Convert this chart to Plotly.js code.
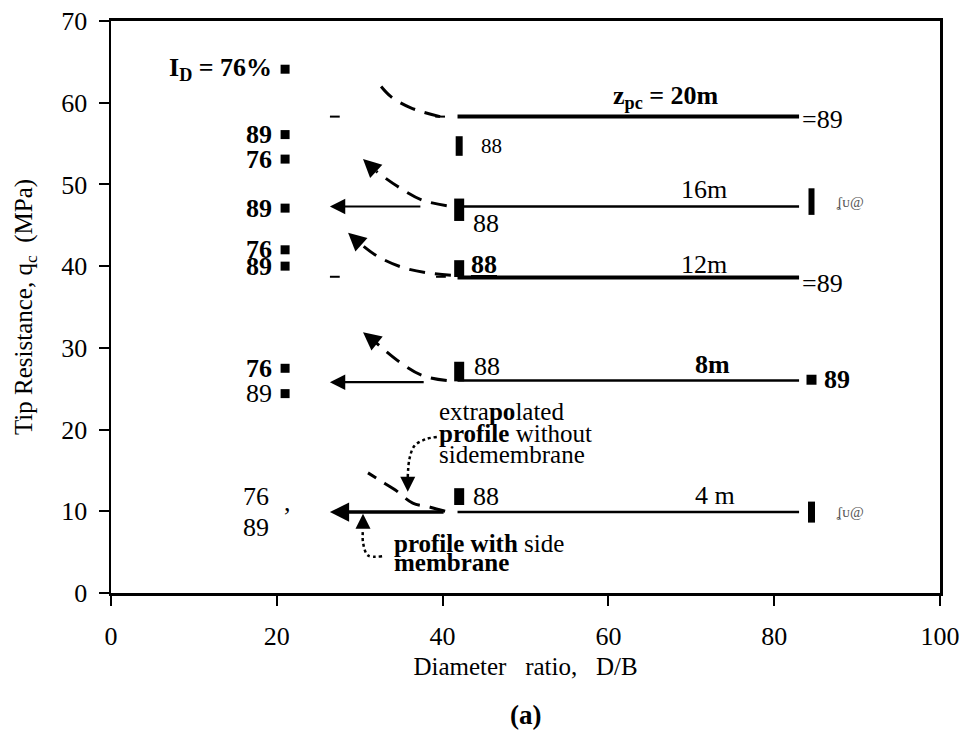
<!DOCTYPE html>
<html>
<head>
<meta charset="utf-8">
<script src="https://cdn.plot.ly/plotly-3.0.1.min.js"></script>
<style>
  html, body { margin: 0; padding: 0; background: #fff; }
  #chart { width: 962px; height: 740px; }
</style>
</head>
<body>
<div id="chart"></div>
<script>
// Tip resistance q_c versus chamber diameter ratio D/B, by penetration depth z_pc

// Tests at D/B = 21 (markers labelled with relative density I_D)
const leftDB = 21;
const leftQc = [64.1, 56.1, 53.1, 47.1, 42.0, 40.0, 27.5, 24.4];
const leftID = ['I<sub>D</sub> = 76%', '89', '76', '89', '76', '89', '76', '89'];
const leftBold = [true, true, true, true, true, true, true, false];
// values near 4 m whose markers are not drawn
const leftBareQc = [11.8, 8.0];
const leftBareID = ['76', '89'];

// Tests at D/B = 42
const midDB = 42;
const midQc = [54.7, 46.9, 39.7, 27.1, 11.8];
const midID = ['88', '88', '88', '88', '88'];

// Tests at D/B = 85
const rightDB = 84.5;
const rightQc = [47.9, 26.1, 9.9];
const rightID = ['', '89', ''];
const rightEqQc = [57.9, 37.9];   // "=89" entries at 20 m and 12 m
const rightEqID = ['=89', '=89'];

// Profiles with side membrane, one per depth
const depthLabel = ['z<sub>pc</sub> = 20m', '16m', '12m', '<b>8m</b>', '4 m'];
const depthQc = [58.3, 47.3, 38.6, 26.0, 9.9];
const lineFrom = 41.8;
const lineTo = 83.0;

// Extrapolation arrows towards small D/B
const extrapQc = [47.3, 25.8, 9.9];
const extrapFrom = [37.5, 37.9, 40.3];
const extrapTo = 26.4;

// Dashed extrapolated profiles (without side membrane)
const curve20x = [39.7, 36.1, 33.7, 32.1];
const curve20y = [58.3, 59.4, 60.8, 62.6];
const curve16x = [40.5, 37.5, 34.5, 32.0];
const curve16y = [47.4, 48.1, 49.8, 51.6];
const head16 = [30.4, 53.1];
const curve12x = [41.0, 38.0, 35.0, 32.0, 29.8];
const curve12y = [38.9, 39.2, 39.9, 41.3, 43.0];
const head12 = [28.6, 44.1];
const curve8x = [40.5, 37.6, 34.9, 32.0];
const curve8y = [26.0, 26.6, 28.2, 30.6];
const head8 = [30.4, 31.9];
const curve4x = [40.3, 38.5, 36.4, 34.3, 32.4, 31.0];
const curve4y = [10.0, 10.5, 11.0, 12.6, 13.8, 14.7];

// Stray dash fragments of the 20 m and 12 m extrapolations
const fragX = [27.0, 39.7, 27.0, 39.8];
const fragY = [58.3, 58.3, 38.7, 38.7];

// Dotted pointers from the explanatory notes
const ptrAx = [39.3, 37.9, 36.6, 36.0, 35.8];
const ptrAy = [19.1, 18.8, 18.0, 16.4, 14.2];
const ptrAhead = [35.8, 12.4];
const ptrBx = [32.7, 31.0, 30.4, 30.4];
const ptrBy = [4.5, 4.6, 6.2, 7.8];
const ptrBhead = [30.4, 9.7];

const SERIF = 'Liberation Serif, Times New Roman, serif';
const ink = '#000';

const traces = [];

// profile lines
const lineW = [4, 2.5, 4, 2.5, 2.5];
depthQc.forEach((q, i) => {
  traces.push({
    x: [lineFrom, lineTo], y: [q, q], mode: 'lines',
    line: { color: ink, width: lineW[i] }, hoverinfo: 'skip'
  });
});

// dashed extrapolated curves
[[curve20x, curve20y], [curve16x, curve16y], [curve12x, curve12y],
 [curve8x, curve8y], [curve4x, curve4y]].forEach(([cx, cy]) => {
  traces.push({
    x: cx, y: cy, mode: 'lines', line: { color: ink, width: 3, dash: '16px,10px', shape: 'spline' },
    hoverinfo: 'skip'
  });
});

// dotted pointers
[[ptrAx, ptrAy], [ptrBx, ptrBy]].forEach(([px, py]) => {
  traces.push({
    x: px, y: py, mode: 'lines', line: { color: ink, width: 2.5, dash: 'dot', shape: 'spline' },
    hoverinfo: 'skip'
  });
});

// dash fragments
traces.push({
  x: fragX, y: fragY, mode: 'markers',
  marker: { symbol: 'line-ew', size: 7, opacity: 1, line: { color: ink, width: 2 } }, hoverinfo: 'skip'
});

// markers
traces.push({
  x: leftQc.map(() => leftDB), y: leftQc, mode: 'markers',
  marker: { symbol: 'square', size: 9, color: ink, opacity: 1 }, hoverinfo: 'skip'
});
traces.push({
  x: midQc.map(() => midDB), y: midQc, mode: 'markers',
  marker: { symbol: 'line-ns', size: [14, 16, 12, 14, 12], opacity: 1,
            line: { color: ink, width: [7, 10, 10, 10, 10] } }, hoverinfo: 'skip'
});
traces.push({
  x: rightQc.map(() => rightDB), y: rightQc, mode: 'markers',
  marker: { symbol: ['line-ns', 'square', 'line-ns'], size: [19, 10, 15], color: ink, opacity: 1,
            line: { color: ink, width: [6, 0, 7] } }, hoverinfo: 'skip'
});

const ann = [];
function txt(x, y, text, o) {
  o = o || {};
  ann.push(Object.assign({
    x: x, y: y, xref: 'x', yref: 'y', text: text, showarrow: false,
    font: { family: SERIF, size: o.size || 26, color: o.color || ink },
    xanchor: 'center', yanchor: 'middle'
  }, o.extra || {}));
}

// relative density labels at D/B = 21
leftQc.forEach((q, i) => {
  const t = leftBold[i] ? '<b>' + leftID[i] + '</b>' : leftID[i];
  txt(leftDB, q, t, { extra: { xanchor: 'right', xshift: -11 } });
});
leftBareQc.forEach((q, i) => {
  txt(leftDB, q, leftBareID[i], { extra: { xanchor: 'right', xshift: -14 } });
});
txt(leftDB, leftBareQc[0], ',', { extra: { yshift: -6, xshift: 2 } });

// labels at D/B = 42
const midShiftX = [20, 12, 10, 13, 12];
const midShiftY = [0, -14, 4, 5, 0];
const midText = ['<span style="font-size:21px">88</span>', '88',
  '<b><span style="text-decoration:underline">88</span></b>', '88', '88'];
midQc.forEach((q, i) => {
  txt(midDB, q, midText[i], { extra: { xanchor: 'left', xshift: midShiftX[i], yshift: midShiftY[i] } });
});

// labels at D/B = 85
txt(rightDB, rightQc[1], '<b>' + rightID[1] + '</b>', { extra: { xanchor: 'left', xshift: 10 } });
[rightQc[0], rightQc[2]].forEach(q => {
  txt(rightDB, q, 'ʆᴜ@', { size: 15, color: '#555', extra: { xanchor: 'left', xshift: 22 } });
});
rightEqQc.forEach((q, i) => {
  txt(lineTo, q, rightEqID[i], { extra: { xanchor: 'left', xshift: 1 } });
});

// depth labels above each profile
const depthX = [67.0, 71.5, 71.5, 72.5, 72.8];
const depthShift = [20, 17, 13, 16, 17];
depthQc.forEach((q, i) => {
  const t = i === 0 ? '<b>' + depthLabel[i] + '</b>' : depthLabel[i];
  txt(depthX[i], q, t, { extra: { yshift: depthShift[i] } });
});

// extrapolation arrows
extrapQc.forEach((q, i) => {
  ann.push({
    x: extrapTo, y: q, ax: extrapFrom[i], ay: q, xref: 'x', yref: 'y', axref: 'x', ayref: 'y',
    text: '', showarrow: true, arrowhead: 2, arrowsize: i === 2 ? 1.1 : 1.4,
    arrowwidth: i === 2 ? 3.5 : 2.2, arrowcolor: ink
  });
});

// arrow heads at the ends of the dashed curves and pointers
function head(from, to, w) {
  ann.push({
    x: to[0], y: to[1], ax: from[0], ay: from[1], xref: 'x', yref: 'y', axref: 'x', ayref: 'y',
    text: '', showarrow: true, arrowhead: 2, arrowsize: 1.2, arrowwidth: w, arrowcolor: ink
  });
}
head([curve16x[3], curve16y[3]], head16, 3);
head([curve12x[4], curve12y[4]], head12, 3);
head([curve8x[3], curve8y[3]], head8, 3);
head([ptrAx[4], ptrAy[4]], ptrAhead, 2.5);
head([ptrBx[3], ptrBy[3]], ptrBhead, 2.5);

// explanatory notes
txt(39.3, 22.2, 'extra<b>po</b>lated', { size: 25, extra: { xanchor: 'left' } });
txt(39.3, 19.5, '<b>profile</b> without', { size: 25, extra: { xanchor: 'left' } });
txt(39.3, 16.9, 'sidemembrane', { size: 25, extra: { xanchor: 'left' } });
txt(33.9, 6.1, '<b>profile with</b> side', { size: 25, extra: { xanchor: 'left' } });
txt(33.9, 3.7, '<b>membrane</b>', { size: 25, extra: { xanchor: 'left' } });

// panel tag
ann.push({
  x: 0.5, y: -0.213, xref: 'paper', yref: 'paper', text: '<b>(a)</b>', showarrow: false,
  font: { family: SERIF, size: 27, color: ink }, xanchor: 'center', yanchor: 'middle'
});

const layout = {
  width: 962, height: 740,
  margin: { l: 111, r: 22, t: 21, b: 147 },
  paper_bgcolor: '#fff', plot_bgcolor: '#fff',
  showlegend: false, hovermode: false,
  font: { family: SERIF, color: ink },
  xaxis: {
    range: [0, 100], tickvals: [0, 20, 40, 60, 80, 100],
    ticks: 'outside', ticklen: 10, tickwidth: 2, tickcolor: ink,
    showline: true, linewidth: 3, linecolor: ink, mirror: true,
    showgrid: false, zeroline: false,
    tickfont: { family: SERIF, size: 26, color: ink },
    ticklabelstandoff: 8,
    title: { text: 'Diameter\u00a0\u00a0\u00a0ratio,\u00a0\u00a0\u00a0D/B',
             font: { family: SERIF, size: 25, color: ink }, standoff: 8 }
  },
  yaxis: {
    range: [0, 70], tickvals: [0, 10, 20, 30, 40, 50, 60, 70],
    ticks: 'outside', ticklen: 10, tickwidth: 2, tickcolor: ink,
    showline: true, linewidth: 2.5, linecolor: ink, mirror: true,
    showgrid: false, zeroline: false,
    tickfont: { family: SERIF, size: 26, color: ink },
    ticklabelstandoff: 6,
    title: { text: 'Tip Resistance, q<sub>c</sub>\u00a0\u00a0(MPa)',
             font: { family: SERIF, size: 25, color: ink }, standoff: 22 }
  },
  annotations: ann
};

Plotly.newPlot('chart', traces, layout, { staticPlot: true, displayModeBar: false });
</script>
</body>
</html>
